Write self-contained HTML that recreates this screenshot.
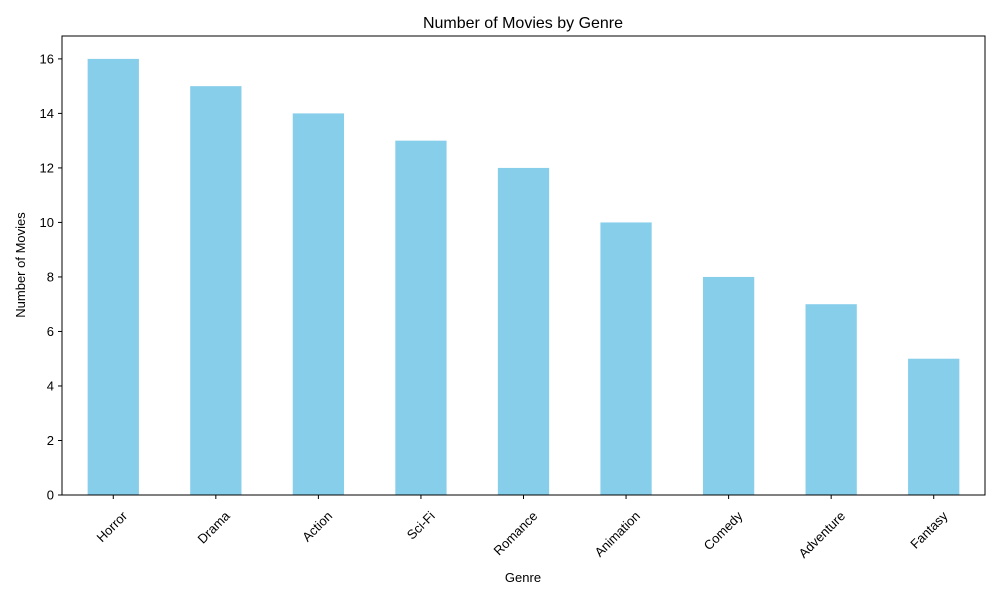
<!DOCTYPE html>
<html><head><meta charset="utf-8"><style>
body{margin:0;background:#fff;}
svg{display:block;font-family:"Liberation Sans","DejaVu Sans",sans-serif;}
</style></head><body>
<svg id="chart" width="1000" height="600">
<rect width="1000" height="600" fill="#fff"/>
<text x="523" y="28" text-anchor="middle" font-size="16" fill="#000">Number of Movies by Genre</text>
<g id="bars"></g>
<g id="yticks"></g>
<g id="xticks"></g>
<rect x="62" y="36" width="923" height="459" fill="none" stroke="#000" stroke-width="1"/>
<text x="523" y="582" text-anchor="middle" font-size="13">Genre</text>
<text transform="translate(25,265) rotate(-90)" text-anchor="middle" font-size="13">Number of Movies</text>
</svg>
<script>
const categories = ["Horror","Drama","Action","Sci-Fi","Romance","Animation","Comedy","Adventure","Fantasy"];
const counts = [16,15,14,13,12,10,8,7,5];
const yTickValues = [0,2,4,6,8,10,12,14,16];

const NS="http://www.w3.org/2000/svg";
const L=62,R=985,T=36,B=495,yMax=16.84;
const xs=i=>L+(i+0.5)*(R-L)/categories.length;
const ys=v=>B-v*(B-T)/yMax;
const bw=0.5*(R-L)/categories.length;
function mk(tag,attrs,parent){const e=document.createElementNS(NS,tag);for(const k in attrs)e.setAttribute(k,attrs[k]);parent.appendChild(e);return e;}
const gb=document.getElementById('bars'),gx=document.getElementById('xticks'),gy=document.getElementById('yticks');
categories.forEach((c,i)=>{
  const r=mk('rect',{x:xs(i)-bw/2,y:ys(counts[i]),width:bw,height:ys(0)-ys(counts[i]),fill:'#87ceeb'},gb);
  
  
  const t=mk('line',{x1:xs(i),x2:xs(i),y1:B,y2:B+4,stroke:'#000'},gx);
  
  
  const lb=mk('text',{transform:`translate(${xs(i)+8},${B+15}) rotate(-45)`,'text-anchor':'end','dominant-baseline':'hanging','font-size':'13'},gx);
  lb.textContent=c;
  
  
});
yTickValues.forEach(v=>{
  const t=mk('line',{x1:L-4,x2:L,y1:ys(v),y2:ys(v),stroke:'#000'},gy);
  
  
  const lb=mk('text',{x:L-8,y:ys(v)+4.5,'text-anchor':'end','font-size':'13'},gy);
  lb.textContent=v;
  
  
});
</script>
</body></html>
